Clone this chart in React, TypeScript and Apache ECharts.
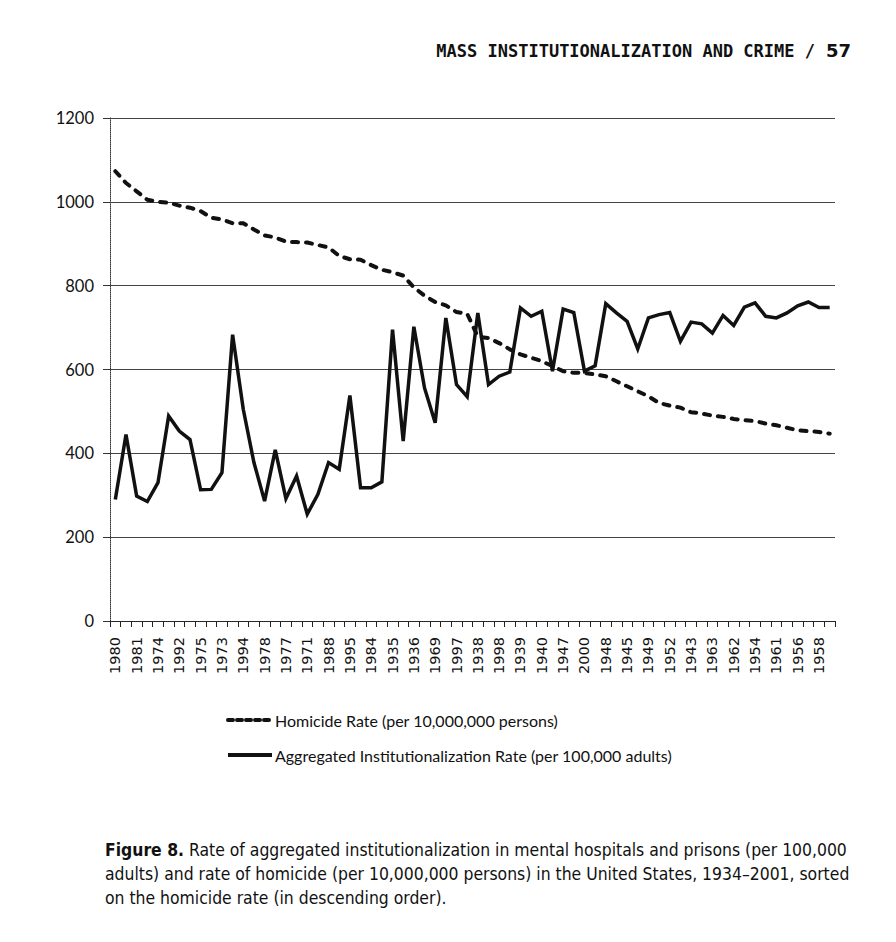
import React, { useEffect, useRef } from "react";
import * as echarts from "echarts";

const years = [
  "1980", "1991", "1981", "1979", "1974", "1993", "1992", "1990", "1975", "1982",
  "1973", "1934", "1994", "1972", "1978", "1989", "1977", "1986", "1971", "1976",
  "1988", "1987", "1995", "1983", "1984", "1985", "1935", "1970", "1936", "1996",
  "1969", "1937", "1997", "1968", "1938", "1967", "1998", "1946", "1939", "1941",
  "1940", "1999", "1947", "1942", "2000", "2001", "1948", "1966", "1945", "1965",
  "1949", "1950", "1952", "1964", "1943", "1944", "1963", "1951", "1962", "1953",
  "1954", "1960", "1961", "1959", "1956", "1955", "1958", "1957",
];

const homicideRate = [
  1073, 1045, 1025, 1005, 1000, 998, 991, 986, 978, 962,
  958, 949, 949, 934, 920, 915, 905, 904, 903, 897,
  891, 871, 863, 862, 849, 838, 832, 824, 796, 776,
  761, 753, 737, 733, 678, 675, 663, 648, 636, 628,
  620, 608, 596, 592, 592, 588, 584, 572, 560, 548,
  536, 520, 514, 509, 498, 495, 490, 487, 482, 479,
  477, 471, 467, 461, 455, 453, 451, 447,
];

const institutionalizationRate = [
  290, 445, 298, 285, 330, 489, 453, 433, 313, 314,
  354, 683, 505, 378, 286, 408, 292, 346, 255, 302,
  378, 362, 538, 318, 318, 332, 695, 429, 702, 556,
  473, 723, 564, 535, 735, 564, 584, 594, 747, 727,
  739, 596, 744, 736, 596, 609, 757, 735, 715, 649,
  723, 731, 736, 667, 713, 709, 687, 729, 705, 749,
  759, 727, 723, 735, 752, 761, 748, 748,
];

const seriesNames = [
  "Homicide Rate (per 10,000,000 persons)",
  "Aggregated Institutionalization Rate (per 100,000 adults)",
];

const headerText = "MASS INSTITUTIONALIZATION AND CRIME /";
const pageNumber = "57";
const captionLines = [
  "Rate of aggregated institutionalization in mental hospitals and prisons (per 100,000",
  "adults) and rate of homicide (per 10,000,000 persons) in the United States, 1934\u20132001, sorted",
  "on the homicide rate (in descending order).",
];

export default function App() {
  const ref = useRef<HTMLDivElement>(null);

  useEffect(() => {
    if (!ref.current) return;
    const chart = echarts.init(ref.current, undefined, { renderer: "svg" });
    const capFont = "'DejaVu Sans Condensed', 'DejaVu Sans', sans-serif";
    const capSize = 17.4;
    const option = {
      animation: false,
      backgroundColor: "#ffffff",
      grid: { left: 110, right: 61, top: 118, bottom: 321 },
      xAxis: {
        type: "category",
        data: years,
        boundaryGap: true,
        axisLine: { lineStyle: { color: "#222", type: "dotted", width: 1 } },
        axisTick: { show: true, interval: 0, length: 6, lineStyle: { color: "#222" } },
        axisLabel: {
          interval: 1,
          rotate: 90,
          margin: 16,
          fontFamily: "'DejaVu Sans', sans-serif",
          fontSize: 14.5,
          color: "#111",
        },
        splitLine: { show: false },
      },
      yAxis: {
        type: "value",
        min: 0,
        max: 1200,
        interval: 200,
        axisLine: { show: true, lineStyle: { color: "#333", type: "dotted", width: 1 } },
        axisTick: { show: true, length: 7, lineStyle: { color: "#333" } },
        axisLabel: {
          margin: 16,
          fontFamily: "Lato, sans-serif",
          fontSize: 16.5,
          color: "#111",
          formatter: (v: number) => String(v),
        },
        splitLine: { lineStyle: { color: "#444", width: 1 } },
      },
      legend: {
        orient: "vertical",
        left: 221,
        top: 707,
        itemWidth: 44,
        itemHeight: 14,
        itemGap: 19,
        data: [
          { name: seriesNames[0], lineStyle: { width: 4, type: [5, 4], color: "#111" } },
          { name: seriesNames[1], lineStyle: { width: 4, color: "#111" } },
        ],
        itemStyle: { opacity: 0 },
        textStyle: { fontFamily: "Lato, sans-serif", fontSize: 16, color: "#111", padding: [0, 0, 0, -2] },
      },
      series: [
        {
          name: seriesNames[0],
          type: "line",
          data: homicideRate,
          symbol: "none",
          lineStyle: { color: "#111", width: 4, type: [6, 8], cap: "round" },
          itemStyle: { color: "#111" },
        },
        {
          name: seriesNames[1],
          type: "line",
          data: institutionalizationRate,
          symbol: "none",
          lineStyle: { color: "#111", width: 3.5, join: "miter", miterLimit: 10 },
          itemStyle: { color: "#111" },
        },
      ],
      graphic: [
        {
          type: "text",
          right: 81,
          top: 42,
          style: {
            text: headerText,
            font: "bold 17px 'DejaVu Sans Mono', monospace",
            fill: "#111",
          },
        },
        {
          type: "text",
          left: 826,
          top: 41,
          style: {
            text: pageNumber,
            font: "bold 18px 'DejaVu Sans', sans-serif",
            fill: "#111",
          },
        },
        {
          type: "text",
          left: 105,
          top: 841,
          style: {
            text: "{b|Figure 8.} " + captionLines[0],
            rich: {
              b: { fontFamily: capFont, fontSize: capSize, fontWeight: "bold", fill: "#111" },
            },
            fontFamily: capFont,
            fontSize: capSize,
            fill: "#111",
          },
        },
        {
          type: "text",
          left: 105,
          top: 865,
          style: { text: captionLines[1], fontFamily: capFont, fontSize: capSize, fill: "#111" },
        },
        {
          type: "text",
          left: 105,
          top: 889,
          style: { text: captionLines[2], fontFamily: capFont, fontSize: capSize, fill: "#111" },
        },
      ],
    };
    chart.setOption(option as any);
    return () => chart.dispose();
  }, []);

  return (
    <div
      ref={ref}
      style={{ position: "fixed", left: 0, top: 0, width: 896, height: 942, background: "#fff" }}
    />
  );
}
